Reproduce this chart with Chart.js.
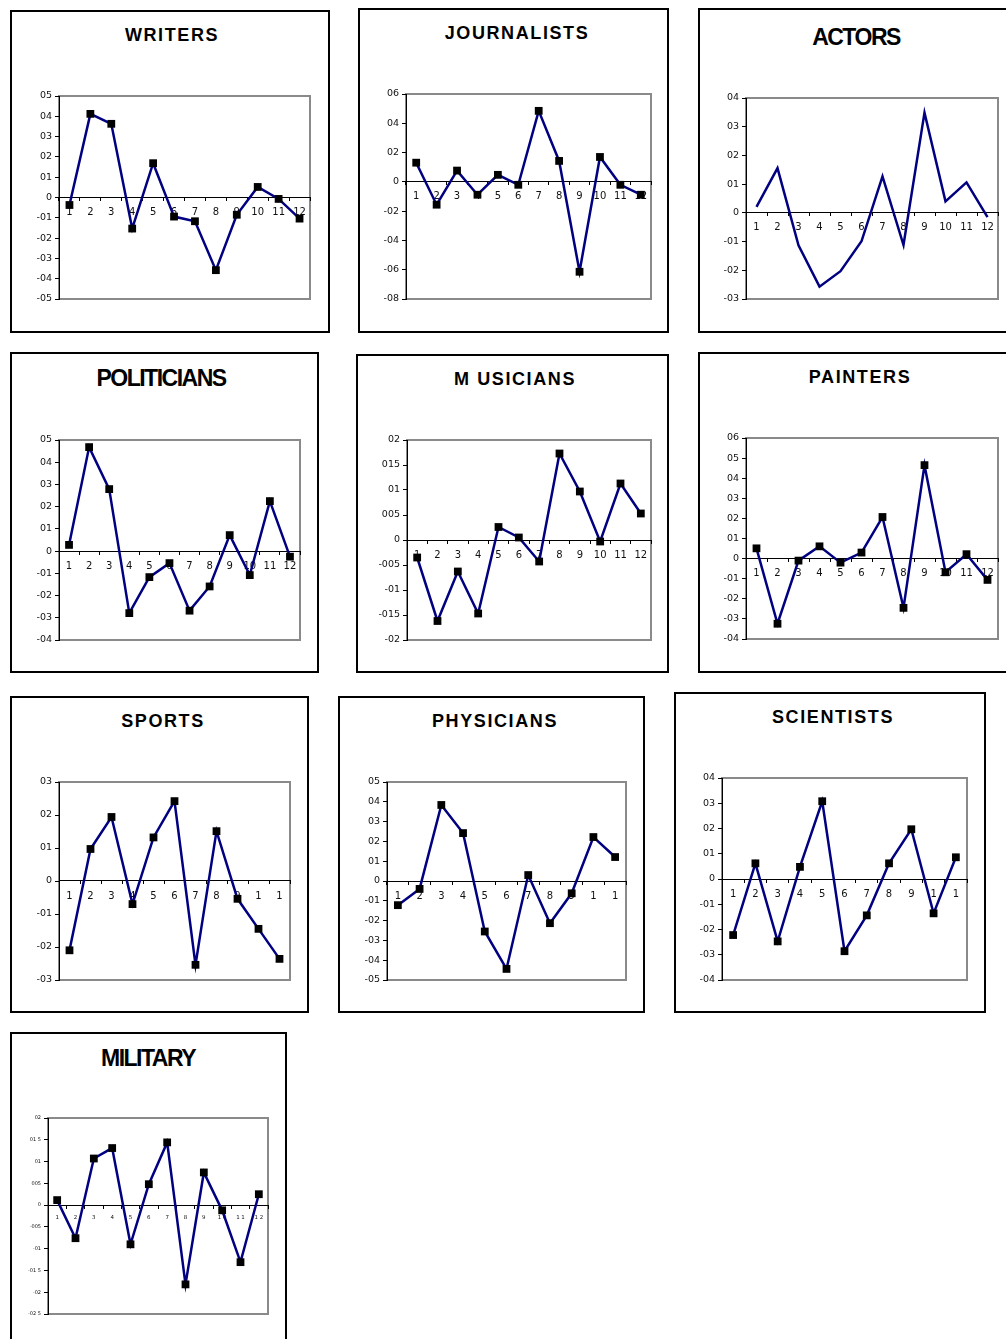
<!DOCTYPE html>
<html>
<head>
<meta charset="utf-8">
<script src="https://cdn.jsdelivr.net/npm/chart.js@4/dist/chart.umd.min.js"></script>
<style>
  html, body { margin: 0; padding: 0; background: #fff; }
  body { width: 1006px; height: 1339px; position: relative; overflow: hidden; }
  .box { position: absolute; border: 2px solid #000; box-sizing: border-box; }
  .title { position: absolute; transform: translate(-50%, -50%); font-family: "Liberation Sans", Arial, sans-serif;
           font-weight: bold; color: #000; white-space: nowrap; font-size: 18px; letter-spacing: 1.6px; }
  .title.tight { font-size: 23px; letter-spacing: -1.5px; }
  .chart { position: absolute; }
</style>
</head>
<body>
<script>
// values
const months12 = ['1', '2', '3', '4', '5', '6', '7', '8', '9', '10', '11', '12'];
const months11 = ['1', '2', '3', '4', '5', '6', '7', '8', '9', '1', '1'];
const monthsMil = ['1', '2', '3', '4', '5', '6', '7', '8', '9', '1 0', '1 1', '1 2'];

const writers = [-0.037, 0.412, 0.363, -0.153, 0.169, -0.094, -0.117, -0.358, -0.085, 0.052, -0.007, -0.104];
const journalists = [0.131, -0.156, 0.077, -0.088, 0.048, -0.02, 0.485, 0.143, -0.614, 0.170, -0.02, -0.088];
const actors = [0.021, 0.156, -0.113, -0.257, -0.203, -0.099, 0.127, -0.112, 0.349, 0.040, 0.106, -0.015];
const politicians = [0.028, 0.468, 0.279, -0.279, -0.117, -0.054, -0.268, -0.159, 0.072, -0.108, 0.225, -0.025];
const musicians = [-0.035, -0.162, -0.063, -0.147, 0.026, 0.005, -0.043, 0.173, 0.097, -0.003, 0.113, 0.053];
const painters = [0.051, -0.324, -0.010, 0.061, -0.02, 0.03, 0.207, -0.245, 0.465, -0.068, 0.022, -0.106];
const sports = [-0.21, 0.097, 0.194, -0.07, 0.132, 0.242, -0.254, 0.151, -0.054, -0.145, -0.236];
const physicians = [-0.122, -0.04, 0.384, 0.242, -0.255, -0.444, 0.03, -0.213, -0.062, 0.222, 0.121];
const scientists = [-0.222, 0.062, -0.247, 0.048, 0.308, -0.286, -0.144, 0.062, 0.197, -0.136, 0.086];
const military = [0.0115, -0.076, 0.107, 0.131, -0.09, 0.048, 0.144, -0.182, 0.075, -0.012, -0.131, 0.025];

// y tick labels, top to bottom
const writersTicks = ['05', '04', '03', '02', '01', '0', '-01', '-02', '-03', '-04', '-05'];
const journalistsTicks = ['06', '04', '02', '0', '-02', '-04', '-06', '-08'];
const actorsTicks = ['04', '03', '02', '01', '0', '-01', '-02', '-03'];
const politiciansTicks = ['05', '04', '03', '02', '01', '0', '-01', '-02', '-03', '-04'];
const musiciansTicks = ['02', '015', '01', '005', '0', '-005', '-01', '-015', '-02'];
const paintersTicks = ['06', '05', '04', '03', '02', '01', '0', '-01', '-02', '-03', '-04'];
const sportsTicks = ['03', '02', '01', '0', '-01', '-02', '-03'];
const physiciansTicks = ['05', '04', '03', '02', '01', '0', '-01', '-02', '-03', '-04', '-05'];
const scientistsTicks = ['04', '03', '02', '01', '0', '-01', '-02', '-03', '-04'];
const militaryTicks = ['02', '01 5', '01', '005', '0', '-005', '-01', '-01 5', '-02', '-02 5'];

const panels = [
  { title: 'WRITERS', tight: false, tx: 172, ty: 35, box: [10, 10, 320, 323], plot: [59, 96, 310, 299],
    labels: months12, values: writers, ticks: writersTicks, max: 0.5, step: 0.1, markers: true },
  { title: 'JOURNALISTS', tight: false, tx: 517, ty: 33, box: [358, 8, 311, 325], plot: [406, 94, 651, 299],
    labels: months12, values: journalists, ticks: journalistsTicks, max: 0.6, step: 0.2, markers: true },
  { title: 'ACTORS', tight: true, tx: 856, ty: 37, box: [698, 8, 320, 325], plot: [746, 98, 998, 299],
    labels: months12, values: actors, ticks: actorsTicks, max: 0.4, step: 0.1, markers: false },
  { title: 'POLITICIANS', tight: true, tx: 161, ty: 378, box: [10, 352, 309, 321], plot: [59, 440, 300, 640],
    labels: months12, values: politicians, ticks: politiciansTicks, max: 0.5, step: 0.1, markers: true },
  { title: 'M USICIANS', tight: false, tx: 515, ty: 379, box: [356, 354, 313, 319], plot: [407, 440, 651, 640],
    labels: months12, values: musicians, ticks: musiciansTicks, max: 0.2, step: 0.05, markers: true },
  { title: 'PAINTERS', tight: false, tx: 860, ty: 377, box: [698, 352, 320, 321], plot: [746, 438, 998, 639],
    labels: months12, values: painters, ticks: paintersTicks, max: 0.6, step: 0.1, markers: true },
  { title: 'SPORTS', tight: false, tx: 163, ty: 721, box: [10, 696, 299, 317], plot: [59, 782, 290, 980],
    labels: months11, values: sports, ticks: sportsTicks, max: 0.3, step: 0.1, markers: true },
  { title: 'PHYSICIANS', tight: false, tx: 495, ty: 721, box: [338, 696, 307, 317], plot: [387, 782, 626, 980],
    labels: months11, values: physicians, ticks: physiciansTicks, max: 0.5, step: 0.1, markers: true },
  { title: 'SCIENTISTS', tight: false, tx: 833, ty: 717, box: [674, 692, 312, 321], plot: [722, 778, 967, 980],
    labels: months11, values: scientists, ticks: scientistsTicks, max: 0.4, step: 0.1, markers: true },
  { title: 'MILITARY', tight: true, tx: 148, ty: 1058, box: [10, 1032, 277, 320], plot: [48, 1118, 268, 1314],
    labels: monthsMil, values: military, ticks: militaryTicks, max: 0.2, step: 0.05, markers: true, small: true }
];

// grey frame round the plot area
const plotFrame = {
  id: 'plotFrame',
  beforeDraw(chart) {
    const a = chart.chartArea;
    const ctx = chart.ctx;
    ctx.save();
    ctx.strokeStyle = '#8a8a8a';
    ctx.lineWidth = 2;
    ctx.strokeRect(a.left, a.top, a.right - a.left, a.bottom - a.top);
    ctx.restore();
  }
};

const AXIS_W = 40, PAD = 12;

panels.forEach(p => {
  const box = document.createElement('div');
  box.className = 'box';
  box.style.left = p.box[0] + 'px';
  box.style.top = p.box[1] + 'px';
  box.style.width = p.box[2] + 'px';
  box.style.height = p.box[3] + 'px';
  document.body.appendChild(box);

  const t = document.createElement('div');
  t.className = 'title' + (p.tight ? ' tight' : '');
  t.textContent = p.title;
  t.style.left = p.tx + 'px';
  t.style.top = p.ty + 'px';
  document.body.appendChild(t);

  const [l, tp, r, b] = p.plot;
  const wrap = document.createElement('div');
  wrap.className = 'chart';
  wrap.style.left = (l - AXIS_W) + 'px';
  wrap.style.top = (tp - PAD) + 'px';
  wrap.style.width = (r - l + AXIS_W + PAD) + 'px';
  wrap.style.height = (b - tp + 2 * PAD) + 'px';
  const canvas = document.createElement('canvas');
  wrap.appendChild(canvas);
  document.body.appendChild(wrap);

  const n = p.ticks.length;
  const min = p.max - (n - 1) * p.step;
  const yFont = p.small ? 5 : 9.5;
  const xFont = p.small ? 5.5 : 10;

  new Chart(canvas, {
    type: 'line',
    data: {
      labels: p.labels,
      datasets: [{
        data: p.values,
        borderColor: '#000080',
        borderWidth: 2.5,
        tension: 0,
        pointStyle: 'rect',
        pointRadius: p.markers ? 5.5 : 0,
        pointBackgroundColor: '#000',
        pointBorderColor: '#000',
        pointBorderWidth: 0,
        clip: false
      }]
    },
    options: {
      responsive: true,
      maintainAspectRatio: false,
      animation: false,
      layout: { padding: { top: PAD, right: PAD, bottom: PAD, left: 0 } },
      plugins: { legend: { display: false }, tooltip: { enabled: false } },
      scales: {
        x: {
          position: { y: 0 },
          offset: true,
          border: { color: '#000', width: 1 },
          grid: { drawOnChartArea: false, offset: true, tickLength: 3, tickColor: '#000' },
          ticks: {
            autoSkip: false, maxRotation: 0, padding: 6, color: '#111',
            font: { family: 'DejaVu Sans', size: xFont }
          },
          afterFit(s) { s.paddingLeft = 0; s.paddingRight = 0; s.paddingTop = 0; s.paddingBottom = 0; }
        },
        y: {
          min: min,
          max: p.max,
          border: { color: '#000', width: 1 },
          grid: { drawOnChartArea: false, tickLength: 4, tickColor: '#000' },
          afterBuildTicks(s) {
            s.ticks = p.ticks.map((_, i) => ({ value: min + i * p.step }));
          },
          ticks: {
            padding: 3, color: '#111',
            font: { family: 'DejaVu Sans', size: yFont },
            callback: (v, i) => p.ticks[n - 1 - i]
          },
          afterFit(s) { s.width = AXIS_W; s.paddingTop = 0; s.paddingBottom = 0; }
        }
      }
    },
    plugins: [plotFrame]
  });
});
</script>
</body>
</html>
